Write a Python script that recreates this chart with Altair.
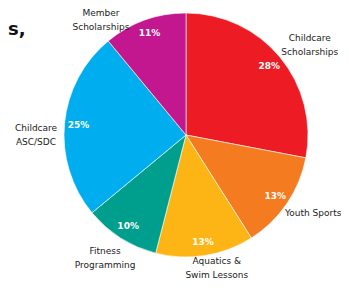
import altair as alt
import pandas as pd

categories = ["Childcare Scholarships", "Youth Sports", "Aquatics & Swim Lessons",
              "Fitness Programming", "Childcare ASC/SDC", "Member Scholarships"]
labels = ["Childcare\nScholarships", "Youth Sports", "Aquatics &\nSwim Lessons",
          "Fitness\nProgramming", "Childcare\nASC/SDC", "Member\nScholarships"]
values = [28, 13, 13, 10, 25, 11]
colors = ["#ED1C24", "#F47B20", "#FDB515", "#009E8C", "#00AEEF", "#C2178E"]

df = pd.DataFrame({
    "category": categories,
    "label": labels,
    "value": values,
    "idx": list(range(len(categories))),
})
df["pct"] = [f"{v}%" for v in values]

CX, CY, R = 178, 127, 122

base = alt.Chart(df).encode(
    theta=alt.Theta("value:Q", stack=True),
    order=alt.Order("idx:Q"),
)

pie = base.mark_arc(stroke="white", strokeWidth=0.6).encode(
    color=alt.Color("category:N", scale=alt.Scale(domain=categories, range=colors), legend=None),
    x=alt.value(CX), y=alt.value(CY), radius=alt.value(R),
)

pct = base.mark_text(font="DejaVu Sans", fontSize=9, fontWeight="bold", color="white",
                     baseline="middle", align="center").encode(
    text="pct:N", x=alt.value(CX), y=alt.value(CY), radius=alt.value(108),
)

# label placement tweaks (radius in px, angular nudge in degrees)
radius_expr = ("datum.idx == 5 ? 143 : datum.idx == 0 ? 153 : datum.idx == 1 ? 153 : "
               "datum.idx == 2 ? 137 : datum.idx == 3 ? 147 : 150")
nudge_expr = ("datum.idx == 5 ? -16.7 : datum.idx == 0 ? 3.6 : datum.idx == 1 ? -0.4 : "
              "datum.idx == 2 ? -4 : datum.idx == 3 ? 1 : -5.4")

lab = alt.Chart(df).transform_window(
    cum="sum(value)", sort=[alt.SortField("idx")], frame=[None, 0]
).transform_calculate(
    ang="(datum.cum - datum.value / 2) * 3.6 + (" + nudge_expr + ")",
    lr=radius_expr,
).mark_text(font="DejaVu Sans", fontSize=9, color="#222222", lineBreak="\n",
            lineHeight=14, baseline="middle", align="center", dy=-7).encode(
    theta=alt.Theta("ang:Q", stack=None, scale=alt.Scale(domain=[0, 360], range=[0, 6.283185307])),
    text="label:N", x=alt.value(CX), y=alt.value(CY),
    radius=alt.Radius("lr:Q", scale=None),
)

title = alt.Chart(pd.DataFrame({"t": ["s,"]})).mark_text(
    font="DejaVu Sans", fontSize=18, fontWeight="bold", color="#111111",
    align="left", baseline="alphabetic").encode(
    text="t:N", x=alt.value(0), y=alt.value(27))

chart = alt.layer(pie, pct, lab, title).resolve_scale(theta="independent").properties(
    width=333, height=274, padding=0, autosize=alt.AutoSizeParams(type="none")
).configure_view(stroke=None)

chart.save("out.html", embed_options={"renderer": "svg", "actions": False})
